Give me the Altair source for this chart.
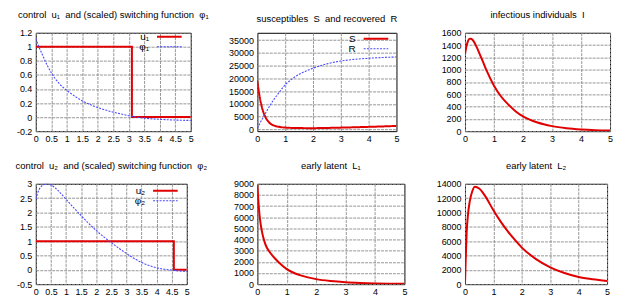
import altair as alt
import pandas as pd

FONT = "Liberation Sans"
RED = "#e00000"
BLUE = "#4a4aff"
SP = "\u00a0"

# ---------------- data ----------------
# panel 1: control u1 and switching function phi1
u1_t = [0, 3.1, 3.1, 5]
u1_v = [1, 1, 0, 0]
phi1_t = [0, 0.1, 0.2, 0.3, 0.4, 0.5, 0.75, 1.0, 1.25, 1.5, 1.75, 2.0, 2.25, 2.5,
          2.75, 3.0, 3.25, 3.5, 3.75, 4.0, 4.5, 5.0]
phi1_v = [1.12, 1.00, 0.90, 0.80, 0.71, 0.63, 0.48, 0.38, 0.30, 0.23, 0.18, 0.135, 0.10,
          0.07, 0.045, 0.02, 0.0, -0.015, -0.025, -0.032, -0.042, -0.048]
names1 = ["u₁", "φ₁"]

# panel 2: susceptibles S and recovered R
sr_t = [0, 0.05, 0.1, 0.15, 0.2, 0.25, 0.3, 0.4, 0.5, 0.6, 0.75, 1.0, 1.25, 1.5, 2.0,
        2.5, 3.0, 3.5, 4.0, 4.5, 5.0]
S_v = [19000, 15000, 11800, 9300, 7300, 5800, 4600, 3000, 2000, 1500, 1050, 700, 570,
       500, 480, 560, 680, 820, 980, 1150, 1350]
R_v = [500, 1500, 2600, 3600, 4600, 5600, 6500, 8400, 10200, 11800, 14000, 17500, 19800,
       21600, 24000, 25700, 26800, 27500, 27900, 28200, 28400]
names2 = ["S", "R"]

# panel 3: infectious individuals I
i_t = [0, 0.05, 0.1, 0.15, 0.2, 0.25, 0.3, 0.4, 0.5, 0.6, 0.75, 1.0, 1.25, 1.5, 1.75,
       2.0, 2.5, 3.0, 3.5, 4.0, 4.5, 5.0]
I_v = [1250, 1380, 1460, 1500, 1505, 1490, 1460, 1370, 1260, 1150, 980, 740, 560, 430,
       320, 240, 140, 82, 48, 28, 16, 9]

# panel 4: control u2 and switching function phi2
u2_t = [0, 4.57, 4.57, 5]
u2_v = [1, 1, 0, 0]
phi2_t = [0, 0.1, 0.2, 0.3, 0.4, 0.5, 0.75, 1.0, 1.25, 1.5, 1.75, 2.0, 2.25, 2.5, 2.75,
          3.0, 3.25, 3.5, 3.75, 4.0, 4.25, 4.5, 4.75, 5.0]
phi2_v = [2.47, 2.78, 2.93, 2.99, 3.0, 2.96, 2.75, 2.46, 2.17, 1.89, 1.62, 1.37, 1.15,
          0.95, 0.75, 0.57, 0.40, 0.26, 0.15, 0.07, 0.02, -0.01, -0.04, -0.06]
names4 = ["u₂", "φ₂"]

# panel 5: early latent L1
l1_t = [0, 0.025, 0.05, 0.1, 0.15, 0.2, 0.25, 0.3, 0.4, 0.5, 0.6, 0.75, 1.0, 1.25, 1.5,
        2.0, 2.5, 3.0, 3.5, 4.0, 4.5, 5.0]
L1_v = [8900, 7800, 6900, 5600, 4800, 4200, 3750, 3400, 2950, 2600, 2300, 1900, 1350,
        1000, 760, 450, 280, 175, 110, 65, 40, 25]

# panel 6: early latent L2
l2_t = [0, 0.03, 0.06, 0.1, 0.17, 0.25, 0.35, 0.5, 0.7, 1.0, 1.25, 1.5, 1.75, 2.0, 2.5,
        3.0, 3.5, 4.0, 4.5, 5.0]
L2_v = [0, 4000, 7300, 9500, 11600, 12900, 13600, 13350, 12350, 10300, 8750, 7400, 6200,
        5100, 3500, 2350, 1550, 1000, 680, 450]

# axis tick values
x_half = [0, 0.5, 1, 1.5, 2, 2.5, 3, 3.5, 4, 4.5, 5]
x_int = [0, 1, 2, 3, 4, 5]
y1_ticks = [-0.2, 0, 0.2, 0.4, 0.6, 0.8, 1, 1.2]
y2_ticks = [0, 5000, 10000, 15000, 20000, 25000, 30000, 35000]
y3_ticks = [0, 200, 400, 600, 800, 1000, 1200, 1400, 1600]
y4_ticks = [-0.5, 0, 0.5, 1, 1.5, 2, 2.5, 3]
y5_ticks = [0, 1000, 2000, 3000, 4000, 5000, 6000, 7000, 8000, 9000]
y6_ticks = [0, 2000, 4000, 6000, 8000, 10000, 12000, 14000]

LABEL_EXPR = "replace(format(datum.value, '~g'), '\u2212', '-')"


def axis(values, orient):
    return alt.Axis(values=values, title=None, grid=True, ticks=False, domain=False,
                    labelExpr=LABEL_EXPR, labelFont=FONT, labelFontSize=9,
                    labelColor="black", labelPadding=3 if orient == "x" else 4,
                    labelFlush=False, labelOverlap=False, labelBound=False,
                    gridColor="#8a8a8a", gridDash=[3, 1], gridWidth=0.9)


def title(text):
    return alt.TitleParams(text, font=FONT, fontSize=9.5, fontWeight="normal",
                           color="black", anchor="middle", offset=9)


def frame(w, h, t):
    return dict(width=w, height=h, title=title(t),
                view=alt.ViewBackground(stroke="black", strokeWidth=1))


def enc_xy(xvals, ydom, yvals):
    return dict(
        x=alt.X("t:Q", scale=alt.Scale(domain=[0, 5], nice=False, zero=False),
                axis=axis(xvals, "x")),
        y=alt.Y("v:Q", scale=alt.Scale(domain=ydom, nice=False, zero=False),
                axis=axis(yvals, "y")),
    )


def legend(lx, ly):
    # label right-aligned, line sample drawn to the right of it (gnuplot style key)
    return alt.Legend(title=None, orient="none", legendX=lx, legendY=ly,
                      symbolType="M3.25,0L9.45,0", symbolSize=64, symbolStrokeWidth=2,
                      labelAlign="right", labelOffset=0, labelFont=FONT,
                      labelFontSize=10, labelColor="black", rowPadding=0, padding=0)


def series_enc(names, lx, ly):
    lg = legend(lx, ly)
    return dict(
        color=alt.Color("series:N", scale=alt.Scale(domain=names, range=[RED, BLUE]), legend=lg),
        strokeDash=alt.StrokeDash("series:N", scale=alt.Scale(domain=names, range=[[1, 0], [2, 1.3]]), legend=lg),
        strokeWidth=alt.StrokeWidth("series:N", scale=alt.Scale(domain=names, range=[2, 1.1]), legend=lg),
        order=alt.Order("i:Q"),
    )


def df_of(t, v, name):
    return pd.DataFrame({"t": t, "v": v, "series": name, "i": list(range(len(t)))})


def control_panel(ut, uv, pt, pv, names, ydom, yvals, w, h, ttl, lx, ly):
    e = dict(**enc_xy(x_half, ydom, yvals), **series_enc(names, lx, ly))
    step = alt.Chart(df_of(ut, uv, names[0])).mark_line(interpolate="linear", clip=True).encode(**e)
    curve = alt.Chart(df_of(pt, pv, names[1])).mark_line(interpolate="monotone", clip=True).encode(**e)
    return alt.layer(step, curve).properties(**frame(w, h, ttl))


def single_panel(t, v, ydom, yvals, w, h, ttl):
    return alt.Chart(df_of(t, v, "a")).mark_line(
        interpolate="monotone", color=RED, strokeWidth=2, clip=True
    ).encode(**enc_xy(x_int, ydom, yvals), order=alt.Order("i:Q")).properties(**frame(w, h, ttl))


def spacer(w):
    return alt.Chart(pd.DataFrame({"s": [0]})).mark_point(opacity=0).properties(
        width=w, height=1, view=alt.ViewBackground(stroke="transparent"))


H1, H2 = 99, 101

p1 = control_panel(u1_t, u1_v, phi1_t, phi1_v, names1, [-0.2, 1.2], y1_ticks, 156, H1,
                   f"control{SP} u₁{SP} and (scaled) switching function{SP} φ₁", 104, -1)

df2 = pd.concat([df_of(sr_t, S_v, "S"), df_of(sr_t, R_v, "R")])
p2 = alt.Chart(df2).mark_line(interpolate="monotone", clip=True).encode(
    **enc_xy(x_int, [-700, 37900], y2_ticks), **series_enc(names2, 89, 1)
).properties(**frame(140, H1, f"susceptibles{SP} S{SP} and recovered{SP} R"))

p3 = single_panel(i_t, I_v, [0, 1600], y3_ticks, 146, H1, f"infectious individuals{SP} I")

p4 = control_panel(u2_t, u2_v, phi2_t, phi2_v, names4, [-0.5, 3], y4_ticks, 152, H2,
                   f"control{SP} u₂{SP} and (scaled) switching function{SP} φ₂", 100, 2)

p5 = single_panel(l1_t, L1_v, [0, 9000], y5_ticks, 148, H2, f"early latent{SP} L₁")
p6 = single_panel(l2_t, L2_v, [0, 14000], y6_ticks, 143, H2, f"early latent{SP} L₂")

chart = alt.concat(
    spacer(5), p1, spacer(67), p2, spacer(54), p3,
    spacer(1), p4, spacer(67), p5, spacer(61), p6,
    columns=6, spacing={"row": 53, "column": 0}, align="none", bounds="flush",
).resolve_scale(
    color="independent", strokeDash="independent", strokeWidth="independent"
).properties(
    padding={"left": 6, "top": 1, "right": 2, "bottom": 2}
).configure_view(strokeWidth=1)

chart.save("out.html", embed_options={"renderer": "svg", "actions": False})
